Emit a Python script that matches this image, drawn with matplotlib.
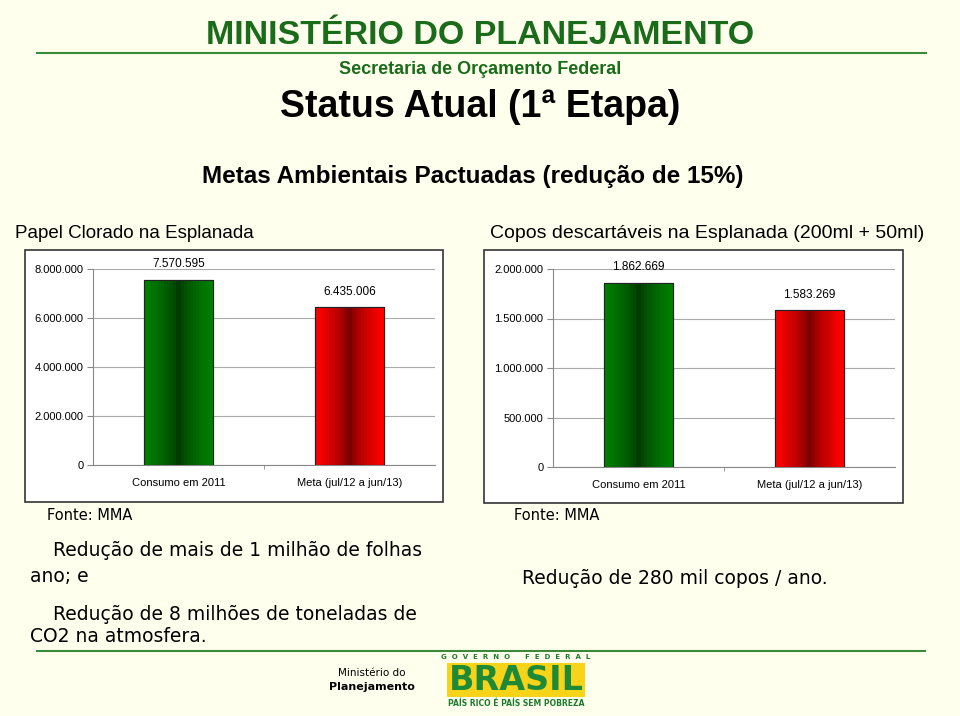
import numpy as np
import matplotlib
matplotlib.use("Agg")
import matplotlib.pyplot as plt
from matplotlib.patches import Rectangle
from matplotlib.lines import Line2D
from matplotlib.ticker import FuncFormatter, MultipleLocator

# data
categorias = ["Consumo em 2011", "Meta (jul/12 a jun/13)"]
papel = [7570595, 6435006]
copos = [1862669, 1583269]

W, H = 960, 716
BG = "#FFFFEE"
VERDE = "#1A6B1A"
NARROW = ["Liberation Sans", "DejaVu Sans"]
BODY = ["DejaVu Sans"]

fig = plt.figure(figsize=(W / 100, H / 100), dpi=100, facecolor=BG)


def px(x, y):
    return x / W, 1 - y / H


def txt(x, y, s, **kw):
    fx, fy = px(x, y)
    fig.text(fx, fy, s, **kw)


def fmt(v, _=None):
    return f"{int(v):,}".replace(",", ".")


def faixa(c_borda, c_centro, n=24):
    # vertical stripes, dark in the middle
    t = np.abs(np.linspace(-1, 1, n))
    c1 = np.array(c_borda) / 255
    c2 = np.array(c_centro) / 255
    cores = c2[None, :] + (c1 - c2)[None, :] * t[:, None] ** 0.55
    return cores[None, :, :]


grad = [faixa((0, 128, 0), (0, 45, 0)), faixa((255, 0, 0), (95, 0, 0))]

# header
txt(480, 36, "MINISTÉRIO DO PLANEJAMENTO", family=NARROW, weight="bold",
    size=24.5, color=VERDE, ha="center", va="center")
fig.add_artist(Line2D([37 / W, 926 / W], [1 - 53 / H] * 2, color="#3A8A3A", lw=1.5))
txt(480, 70, "Secretaria de Orçamento Federal", family=NARROW, weight="bold",
    size=13, color=VERDE, ha="center", va="center")
txt(480, 107, "Status Atual (1ª Etapa)", family=NARROW, weight="bold",
    size=27, color="black", ha="center", va="center")
txt(473, 176, "Metas Ambientais Pactuadas (redução de 15%)", family=NARROW,
    weight="bold", size=17.5, color="black", ha="center", va="center")
txt(15, 233, "Papel Clorado na Esplanada", family=NARROW, size=13.5,
    color="black", ha="left", va="center")
txt(490, 233, "Copos descartáveis na Esplanada (200ml + 50ml)", family=NARROW,
    size=14, color="black", ha="left", va="center")

# chart panels
for (x0, x1, y0, y1) in [(25, 443, 250, 502), (484, 903, 250, 503)]:
    fx0, fy1 = px(x0, y1)
    fig.add_artist(Rectangle((fx0, fy1), (x1 - x0) / W, (y1 - y0) / H,
                             facecolor="white", edgecolor="#333333", lw=1.2,
                             zorder=-1))


def grafico(rect, valores, ymax, passo):
    ax = fig.add_axes(rect)
    ax.set_facecolor("white")
    x = np.arange(len(categorias))
    barras = ax.bar(x, valores, width=0.4, color=["#008000", "#FF0000"],
                    edgecolor="#222222", lw=0.8, zorder=3)
    for b, g in zip(barras, grad):
        bx, by = b.get_x(), b.get_y()
        im = ax.imshow(g, extent=(bx, bx + b.get_width(), by, by + b.get_height()),
                       aspect="auto", interpolation="nearest", zorder=3.5)
        im.set_clip_path(b)
        # redraw border over gradient
        ax.add_patch(Rectangle((bx, by), b.get_width(), b.get_height(),
                               fill=False, edgecolor="#222222", lw=0.8, zorder=4))
    for xi, v in zip(x, valores):
        ax.annotate(fmt(v), (xi, v), xytext=(0, 7), textcoords="offset points",
                    ha="center", va="bottom", fontsize=8.5, family="Liberation Sans")
    ax.set_xlim(-0.5, 1.5)
    ax.set_ylim(0, ymax)
    ax.yaxis.set_major_locator(MultipleLocator(passo))
    ax.yaxis.set_major_formatter(FuncFormatter(fmt))
    ax.set_xticks(x)
    ax.set_xticklabels(categorias, family="Liberation Sans", fontsize=8)
    ax.set_xticks([0.5], minor=True)
    ax.tick_params(axis="x", which="major", length=0, pad=9)
    ax.tick_params(axis="x", which="minor", length=3, color="#888888")
    ax.tick_params(axis="y", length=4, color="#888888", pad=3, labelsize=8)
    for lab in ax.get_yticklabels():
        lab.set_family("Liberation Sans")
    ax.grid(axis="y", color="#AAAAAA", lw=0.8, zorder=0)
    ax.set_axisbelow(True)
    for s in ["top", "right"]:
        ax.spines[s].set_visible(False)
    for s in ["left", "bottom"]:
        ax.spines[s].set_color("#888888")
        ax.spines[s].set_linewidth(0.8)
    return ax


grafico([93 / W, 1 - 465 / H, 342 / W, 196 / H], papel, 8000000, 2000000)
grafico([553 / W, 1 - 467 / H, 342 / W, 198 / H], copos, 2000000, 500000)

# notes
txt(47, 515, "Fonte: MMA", family=BODY, size=10.5, ha="left", va="center")
txt(514, 515, "Fonte: MMA", family=BODY, size=10.5, ha="left", va="center")
txt(53, 550, "Redução de mais de 1 milhão de folhas", family=BODY, size=13.5,
    ha="left", va="center")
txt(30, 576, "ano; e", family=BODY, size=13.5, ha="left", va="center")
txt(53, 614, "Redução de 8 milhões de toneladas de", family=BODY, size=13.5,
    ha="left", va="center")
txt(30, 636, "CO2 na atmosfera.", family=BODY, size=13.5, ha="left", va="center")
txt(522, 579, "Redução de 280 mil copos / ano.", family=BODY, size=13.5,
    ha="left", va="center")

# footer
fig.add_artist(Line2D([37 / W, 925 / W], [1 - 651 / H] * 2, color="#3A8A3A", lw=1.5))
txt(372, 673, "Ministério do", family=BODY, size=7.5, ha="center", va="center")
txt(372, 687, "Planejamento", family=BODY, size=8, weight="bold", ha="center", va="center")
txt(516, 657, "G  O  V  E  R  N  O      F  E  D  E  R  A  L", family=BODY,
    size=5, color="#1E7A2E", weight="bold", ha="center", va="center")
fx0, fy0 = px(447, 697)
fig.add_artist(Rectangle((fx0, fy0), 138 / W, 34 / H, facecolor="#F7D417",
                         edgecolor="none", zorder=-1))
txt(516, 681, "BRASIL", family=["DejaVu Sans"], size=24, weight="bold",
    color="#1E8A38", ha="center", va="center")
txt(516, 704, "PAÍS RICO É PAÍS SEM POBREZA", family=BODY, size=5.5,
    color="#1E7A2E", weight="bold", ha="center", va="center")

fig.savefig("out.png", dpi=100, facecolor=BG)
